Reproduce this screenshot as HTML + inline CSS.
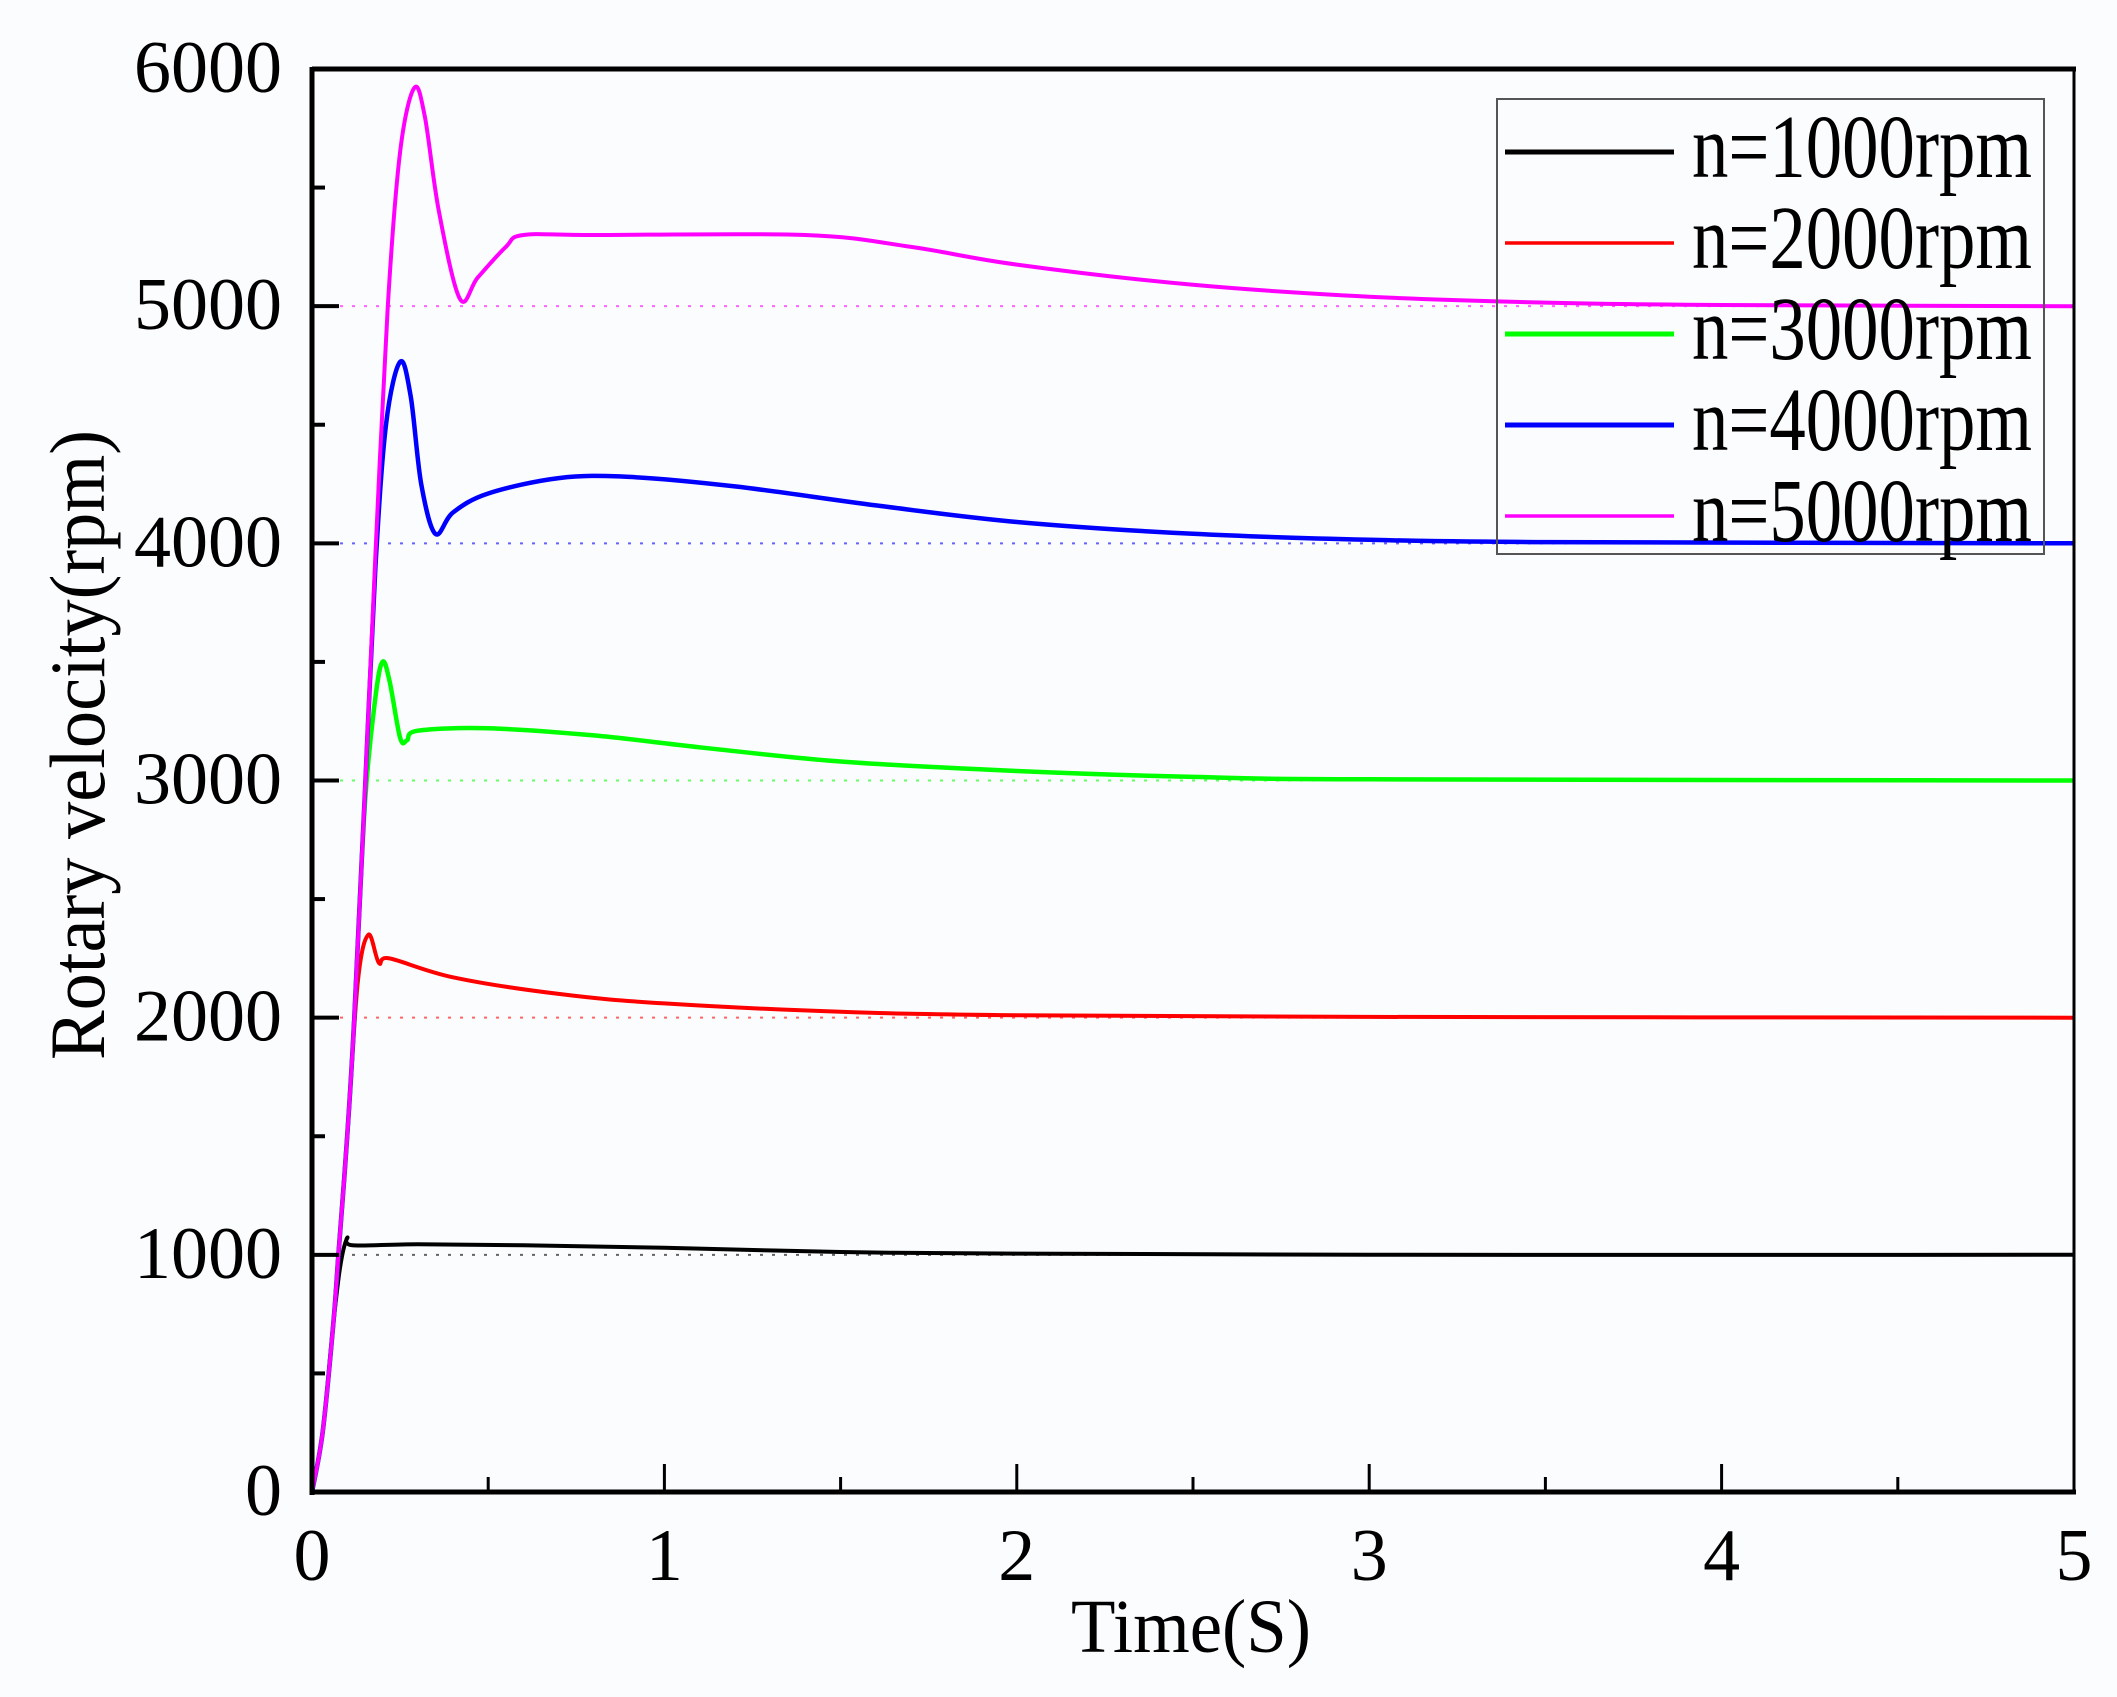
<!DOCTYPE html>
<html><head><meta charset="utf-8"><style>
html,body{margin:0;padding:0;background:#fbfcfd;}
svg{display:block;}
text{font-family:"Liberation Serif",serif;fill:#000;}
</style></head><body>
<svg id="s" width="2117" height="1697" viewBox="0 0 2117 1697" xmlns="http://www.w3.org/2000/svg">
<rect x="0" y="0" width="2117" height="1697" fill="#fbfcfd"/>
<g id="ref"></g>
<g id="curves"></g>
<g id="axes"></g>
<rect x="1497" y="99" width="547" height="455" fill="none" stroke="#555" stroke-width="2"/>
<line x1="1505" y1="152" x2="1674" y2="152" stroke="#000" stroke-width="5"/>
<line x1="1505" y1="243" x2="1674" y2="243" stroke="#f00" stroke-width="3.5"/>
<line x1="1505" y1="334" x2="1674" y2="334" stroke="#0f0" stroke-width="5"/>
<line x1="1505" y1="425" x2="1674" y2="425" stroke="#00f" stroke-width="5"/>
<line x1="1505" y1="516" x2="1674" y2="516" stroke="#f0f" stroke-width="3.5"/>
<g font-size="90">
<text x="1692" y="177" textLength="340" lengthAdjust="spacingAndGlyphs">n=1000rpm</text>
<text x="1692" y="268" textLength="340" lengthAdjust="spacingAndGlyphs">n=2000rpm</text>
<text x="1692" y="359" textLength="340" lengthAdjust="spacingAndGlyphs">n=3000rpm</text>
<text x="1692" y="450" textLength="340" lengthAdjust="spacingAndGlyphs">n=4000rpm</text>
<text x="1692" y="541" textLength="340" lengthAdjust="spacingAndGlyphs">n=5000rpm</text>
</g>
<text x="1191" y="1652" font-size="76" text-anchor="middle" textLength="240" lengthAdjust="spacingAndGlyphs">Time(S)</text>
<text transform="translate(104,745) rotate(-90)" font-size="78" text-anchor="middle" textLength="630" lengthAdjust="spacingAndGlyphs">Rotary velocity(rpm)</text>
</svg>
<script>
var X0=312,XS=352.4,Y0=1492,YS=0.23717;
function X(t){return X0+XS*t;} function Y(v){return Y0-YS*v;}
var NS="http://www.w3.org/2000/svg";
function el(g,n,a){var e=document.createElementNS(NS,n);for(var k in a)e.setAttribute(k,a[k]);document.getElementById(g).appendChild(e);return e;}
var cols={1000:"#000",2000:"#f00",3000:"#0f0",4000:"#00f",5000:"#f0f"};
for(var v=1000;v<=5000;v+=1000){el("ref","line",{x1:340,y1:Y(v),x2:2074,y2:Y(v),stroke:cols[v],"stroke-width":2,"stroke-dasharray":"3 9",opacity:0.6});}
function path(pts){
 var P=pts.map(function(p){return [X(p[0]),Y(p[1])];});
 var d="M"+P[0][0].toFixed(1)+","+P[0][1].toFixed(1);
 for(var i=0;i<P.length-1;i++){
  var p0=P[i-1]||P[i],p1=P[i],p2=P[i+1],p3=P[i+2]||P[i+1];
  var c1=[p1[0]+(p2[0]-p0[0])/6,p1[1]+(p2[1]-p0[1])/6];
  var c2=[p2[0]-(p3[0]-p1[0])/6,p2[1]-(p3[1]-p1[1])/6];
  d+="C"+c1[0].toFixed(1)+","+c1[1].toFixed(1)+" "+c2[0].toFixed(1)+","+c2[1].toFixed(1)+" "+p2[0].toFixed(1)+","+p2[1].toFixed(1);
 }
 return d;
}
var rise=[[0,0],[0.03,250],[0.06,700],[0.075,1000],[0.1,1500],[0.12,2000]];
var S={
 "#000":[[0,0],[0.03,250],[0.06,700],[0.08,950],[0.1,1070],[0.115,1040],[0.3,1045],[0.6,1040],[1,1030],[1.5,1012],[2,1005],[3,1000],[5,1000]],
 "#f00":rise.slice(0,5).concat([[0.13,2150],[0.16,2350],[0.19,2230],[0.22,2250],[0.4,2170],[0.7,2100],[1,2060],[1.5,2025],[2,2010],[3,2003],[5,2000]]),
 "#0f0":rise.concat([[0.15,2900],[0.18,3350],[0.2,3500],[0.22,3420],[0.25,3180],[0.27,3170],[0.3,3210],[0.5,3220],[0.8,3190],[1.1,3140],[1.5,3080],[2,3040],[2.5,3015],[3,3005],[5,3000]]),
 "#00f":rise.concat([[0.15,2950],[0.18,3900],[0.21,4500],[0.25,4765],[0.28,4620],[0.31,4250],[0.35,4040],[0.4,4130],[0.5,4210],[0.7,4275],[0.9,4280],[1.2,4240],[1.6,4160],[2,4090],[2.5,4040],[3,4015],[3.5,4005],[5,4000]]),
 "#f0f":rise.concat([[0.15,2950],[0.18,3950],[0.215,5000],[0.25,5650],[0.29,5920],[0.32,5800],[0.36,5400],[0.42,5030],[0.47,5120],[0.55,5250],[0.6,5300],[0.8,5300],[1.4,5300],[1.7,5250],[2,5175],[2.5,5090],[3,5040],[3.5,5015],[4,5005],[5,5000]])
};
var W={"#000":4,"#f00":4,"#0f0":4.5,"#00f":4.5,"#f0f":4};
["#000","#f00","#0f0","#00f","#f0f"].forEach(function(c){el("curves","path",{d:path(S[c]),fill:"none",stroke:c,"stroke-width":W[c],"stroke-linejoin":"round"});});
el("axes","rect",{x:X0,y:69,width:2074-X0,height:Y0-69,fill:"none",stroke:"#000","stroke-width":3});
el("axes","line",{x1:X0,y1:67,x2:X0,y2:Y0+3,stroke:"#000","stroke-width":5});
el("axes","line",{x1:X0-2,y1:Y0,x2:2076,y2:Y0,stroke:"#000","stroke-width":5});
el("axes","line",{x1:X0,y1:69,x2:2076,y2:69,stroke:"#000","stroke-width":5});
for(var i=0;i<=12;i++){var v=i*500,y=Y(v);if(i==0||i==12)continue;
 el("axes","line",{x1:X0,y1:y,x2:X0+(i%2?13:27),y2:y,stroke:"#000","stroke-width":4});}
for(var i=0;i<=10;i++){var x=X(i*0.5);if(i==0||i==10)continue;
 el("axes","line",{x1:x,y1:Y0,x2:x,y2:Y0-(i%2?15:28),stroke:"#000","stroke-width":3});}
for(var i=0;i<=6;i++){var t=el("axes","text",{x:282,y:Y(i*1000)+23,"font-size":74,"text-anchor":"end"});t.textContent=String(i*1000);}
for(var i=0;i<=5;i++){var t=el("axes","text",{x:X(i),y:1580,"font-size":74,"text-anchor":"middle"});t.textContent=String(i);}
</script>
</body></html>
